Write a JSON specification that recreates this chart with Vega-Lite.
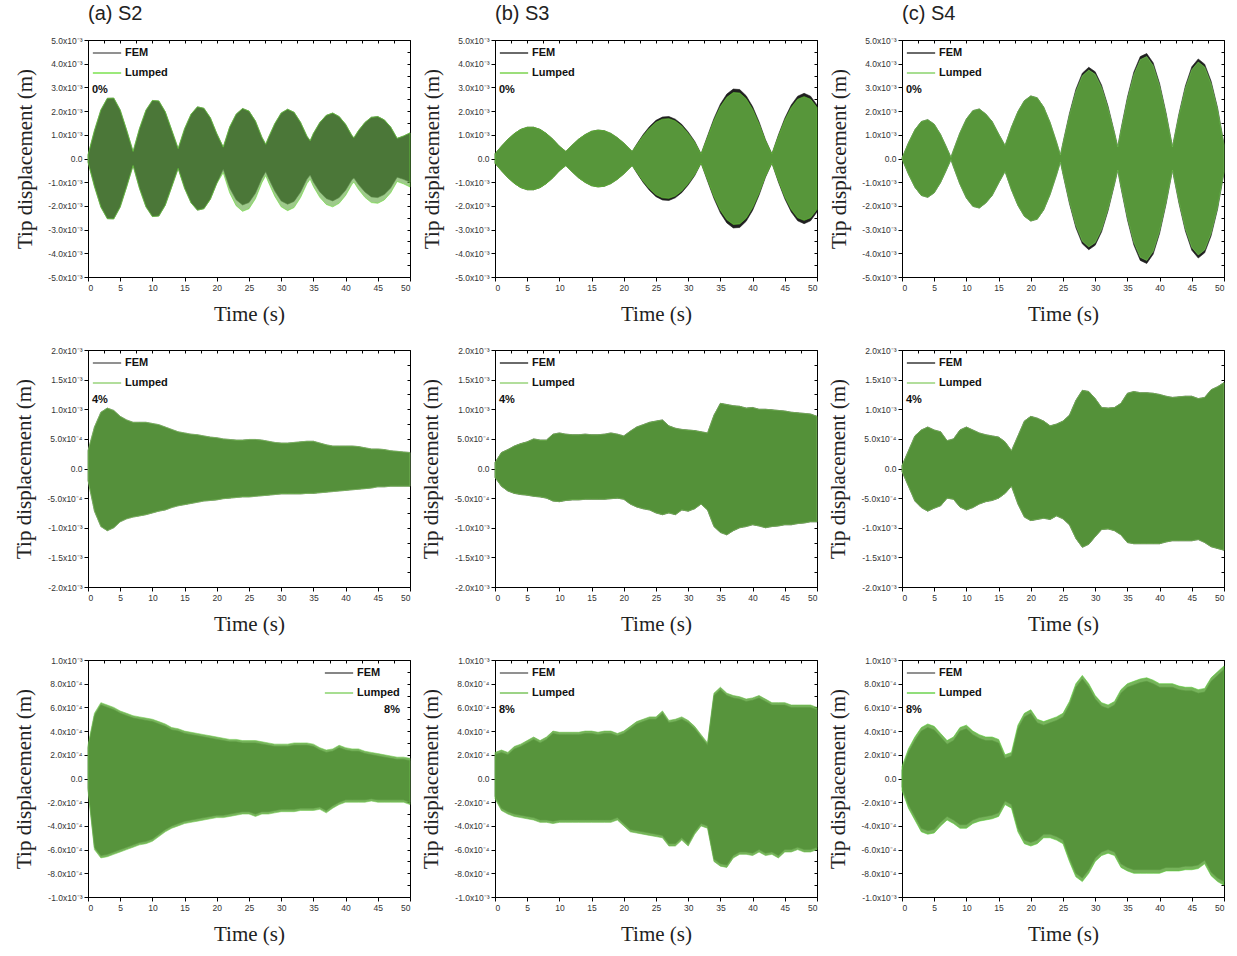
{
"$schema": "https://vega.github.io/schema/vega-lite/v6.json",
"background": "white",
"padding": {"left": 13, "top": 3, "right": 5, "bottom": 5},
"config": {
  "view": {"stroke": "#000", "strokeWidth": 1},
  "axis": {"domainColor": "#000", "tickColor": "#000", "labelFont": "Liberation Sans", "labelFontSize": 8.5, "labelColor": "#333", "titleFont": "Liberation Serif", "titleFontSize": 21, "titleFontWeight": "normal", "titleColor": "#222", "grid": false, "tickSize": 4, "labelPadding": 2},
  "axisX": {"titlePadding": 12},
  "axisY": {"titlePadding": 12},
  "title": {"font": "Liberation Sans", "fontSize": 20, "fontWeight": "normal", "anchor": "start", "frame": "group", "color": "#222", "offset": 12},
  "legend": {"orient": "none", "legendX": 4, "legendY": -2, "titleOrient": "bottom", "symbolType": "stroke", "symbolSize": 800, "symbolStrokeWidth": 1.3, "labelFont": "Liberation Sans", "labelFontWeight": "bold", "labelFontSize": 11, "labelColor": "#111", "titleFont": "Liberation Sans", "titleFontWeight": "bold", "titleFontSize": 11, "titleColor": "#111", "titlePadding": 6, "rowPadding": -21, "padding": 0, "labelOffset": 3}
},
"datasets": {
"a1": [
{"t":0,"fh":0.15,"fl":-0.15,"lh":0.15,"ll":-0.15},
{"t":1,"fh":1.18,"fl":-1.18,"lh":1.18,"ll":-1.18},
{"t":2,"fh":2.05,"fl":-2.05,"lh":2.05,"ll":-2.05},
{"t":3,"fh":2.54,"fl":-2.54,"lh":2.54,"ll":-2.54},
{"t":4,"fh":2.55,"fl":-2.55,"lh":2.55,"ll":-2.55},
{"t":5,"fh":2.05,"fl":-2.05,"lh":2.05,"ll":-2.05},
{"t":6,"fh":1.2,"fl":-1.2,"lh":1.2,"ll":-1.2},
{"t":7,"fh":0.3,"fl":-0.3,"lh":0.3,"ll":-0.3},
{"t":8,"fh":1.27,"fl":-1.27,"lh":1.27,"ll":-1.27},
{"t":9,"fh":2.04,"fl":-2.04,"lh":2.04,"ll":-2.04},
{"t":10,"fh":2.45,"fl":-2.45,"lh":2.45,"ll":-2.45},
{"t":11,"fh":2.43,"fl":-2.43,"lh":2.43,"ll":-2.43},
{"t":12,"fh":1.97,"fl":-1.97,"lh":1.97,"ll":-1.97},
{"t":13,"fh":1.2,"fl":-1.2,"lh":1.2,"ll":-1.2},
{"t":14,"fh":0.42,"fl":-0.42,"lh":0.42,"ll":-0.42},
{"t":15,"fh":1.26,"fl":-1.26,"lh":1.26,"ll":-1.26},
{"t":16,"fh":1.87,"fl":-1.87,"lh":1.87,"ll":-1.87},
{"t":17,"fh":2.18,"fl":-2.18,"lh":2.18,"ll":-2.18},
{"t":18,"fh":2.12,"fl":-2.12,"lh":2.12,"ll":-2.12},
{"t":19,"fh":1.72,"fl":-1.72,"lh":1.72,"ll":-1.72},
{"t":20,"fh":1.05,"fl":-1.05,"lh":1.05,"ll":-1.05},
{"t":21,"fh":0.48,"fl":-0.45,"lh":0.48,"ll":-0.6},
{"t":22,"fh":1.33,"fl":-1.24,"lh":1.33,"ll":-1.45},
{"t":23,"fh":1.87,"fl":-1.74,"lh":1.87,"ll":-1.99},
{"t":24,"fh":2.11,"fl":-1.96,"lh":2.11,"ll":-2.23},
{"t":25,"fh":2.0,"fl":-1.86,"lh":2.0,"ll":-2.12},
{"t":26,"fh":1.58,"fl":-1.47,"lh":1.58,"ll":-1.7},
{"t":27,"fh":0.9,"fl":-0.84,"lh":0.9,"ll":-1.02},
{"t":27.6,"fh":0.6,"fl":-0.56,"lh":0.6,"ll":-0.72},
{"t":28,"fh":0.87,"fl":-0.81,"lh":0.87,"ll":-0.99},
{"t":29,"fh":1.47,"fl":-1.37,"lh":1.47,"ll":-1.59},
{"t":30,"fh":1.92,"fl":-1.79,"lh":1.92,"ll":-2.04},
{"t":31,"fh":2.08,"fl":-1.93,"lh":2.08,"ll":-2.2},
{"t":32,"fh":1.95,"fl":-1.81,"lh":1.95,"ll":-2.07},
{"t":33,"fh":1.53,"fl":-1.42,"lh":1.53,"ll":-1.65},
{"t":34,"fh":0.94,"fl":-0.87,"lh":0.94,"ll":-1.06},
{"t":34.5,"fh":0.75,"fl":-0.7,"lh":0.75,"ll":-0.87},
{"t":35,"fh":1.06,"fl":-0.99,"lh":1.06,"ll":-1.18},
{"t":36,"fh":1.52,"fl":-1.41,"lh":1.52,"ll":-1.64},
{"t":37,"fh":1.82,"fl":-1.69,"lh":1.82,"ll":-1.94},
{"t":38,"fh":1.92,"fl":-1.79,"lh":1.92,"ll":-2.04},
{"t":39,"fh":1.77,"fl":-1.65,"lh":1.77,"ll":-1.89},
{"t":40,"fh":1.44,"fl":-1.34,"lh":1.44,"ll":-1.56},
{"t":41,"fh":0.96,"fl":-0.89,"lh":0.96,"ll":-1.08},
{"t":41.3,"fh":0.88,"fl":-0.82,"lh":0.88,"ll":-1.0},
{"t":42,"fh":1.18,"fl":-1.1,"lh":1.18,"ll":-1.3},
{"t":43,"fh":1.52,"fl":-1.41,"lh":1.52,"ll":-1.64},
{"t":44,"fh":1.74,"fl":-1.62,"lh":1.74,"ll":-1.86},
{"t":45,"fh":1.77,"fl":-1.65,"lh":1.77,"ll":-1.89},
{"t":46,"fh":1.63,"fl":-1.52,"lh":1.63,"ll":-1.75},
{"t":47,"fh":1.33,"fl":-1.24,"lh":1.33,"ll":-1.45},
{"t":48,"fh":0.85,"fl":-0.79,"lh":0.85,"ll":-0.97},
{"t":49,"fh":0.95,"fl":-0.88,"lh":0.95,"ll":-1.07},
{"t":50,"fh":1.08,"fl":-1.0,"lh":1.08,"ll":-1.2}
],
"b1": [
{"t":0,"fh":0.2,"fl":-0.2,"lh":0.2,"ll":-0.2},
{"t":1,"fh":0.52,"fl":-0.52,"lh":0.52,"ll":-0.52},
{"t":2,"fh":0.81,"fl":-0.81,"lh":0.81,"ll":-0.81},
{"t":3,"fh":1.05,"fl":-1.05,"lh":1.05,"ll":-1.05},
{"t":4,"fh":1.23,"fl":-1.23,"lh":1.23,"ll":-1.23},
{"t":5,"fh":1.32,"fl":-1.32,"lh":1.32,"ll":-1.32},
{"t":6,"fh":1.32,"fl":-1.32,"lh":1.32,"ll":-1.32},
{"t":7,"fh":1.23,"fl":-1.23,"lh":1.23,"ll":-1.23},
{"t":8,"fh":1.05,"fl":-1.05,"lh":1.05,"ll":-1.05},
{"t":9,"fh":0.81,"fl":-0.81,"lh":0.81,"ll":-0.81},
{"t":10,"fh":0.52,"fl":-0.52,"lh":0.52,"ll":-0.52},
{"t":11,"fh":0.3,"fl":-0.3,"lh":0.3,"ll":-0.3},
{"t":12,"fh":0.57,"fl":-0.57,"lh":0.57,"ll":-0.57},
{"t":13,"fh":0.82,"fl":-0.82,"lh":0.82,"ll":-0.82},
{"t":14,"fh":1.01,"fl":-1.01,"lh":1.01,"ll":-1.01},
{"t":15,"fh":1.15,"fl":-1.15,"lh":1.15,"ll":-1.15},
{"t":16,"fh":1.2,"fl":-1.2,"lh":1.2,"ll":-1.2},
{"t":17,"fh":1.17,"fl":-1.17,"lh":1.17,"ll":-1.17},
{"t":18,"fh":1.06,"fl":-1.06,"lh":1.06,"ll":-1.06},
{"t":19,"fh":0.88,"fl":-0.88,"lh":0.88,"ll":-0.88},
{"t":20,"fh":0.65,"fl":-0.65,"lh":0.65,"ll":-0.65},
{"t":21,"fh":0.38,"fl":-0.38,"lh":0.38,"ll":-0.38},
{"t":21.3,"fh":0.3,"fl":-0.3,"lh":0.3,"ll":-0.3},
{"t":22,"fh":0.6,"fl":-0.6,"lh":0.57,"ll":-0.57},
{"t":23,"fh":1.01,"fl":-1.01,"lh":0.96,"ll":-0.96},
{"t":24,"fh":1.35,"fl":-1.35,"lh":1.28,"ll":-1.28},
{"t":25,"fh":1.61,"fl":-1.61,"lh":1.53,"ll":-1.53},
{"t":26,"fh":1.75,"fl":-1.75,"lh":1.66,"ll":-1.66},
{"t":27,"fh":1.77,"fl":-1.77,"lh":1.68,"ll":-1.68},
{"t":28,"fh":1.66,"fl":-1.66,"lh":1.58,"ll":-1.58},
{"t":29,"fh":1.44,"fl":-1.44,"lh":1.37,"ll":-1.37},
{"t":30,"fh":1.12,"fl":-1.12,"lh":1.06,"ll":-1.06},
{"t":31,"fh":0.73,"fl":-0.73,"lh":0.69,"ll":-0.69},
{"t":32,"fh":0.2,"fl":-0.2,"lh":0.19,"ll":-0.19},
{"t":33,"fh":0.95,"fl":-0.95,"lh":0.9,"ll":-0.9},
{"t":34,"fh":1.69,"fl":-1.69,"lh":1.61,"ll":-1.61},
{"t":35,"fh":2.3,"fl":-2.3,"lh":2.19,"ll":-2.19},
{"t":36,"fh":2.72,"fl":-2.72,"lh":2.58,"ll":-2.58},
{"t":37,"fh":2.93,"fl":-2.93,"lh":2.78,"ll":-2.78},
{"t":38,"fh":2.91,"fl":-2.91,"lh":2.76,"ll":-2.76},
{"t":39,"fh":2.65,"fl":-2.65,"lh":2.52,"ll":-2.52},
{"t":40,"fh":2.19,"fl":-2.19,"lh":2.08,"ll":-2.08},
{"t":41,"fh":1.55,"fl":-1.55,"lh":1.47,"ll":-1.47},
{"t":42,"fh":0.79,"fl":-0.79,"lh":0.75,"ll":-0.75},
{"t":43,"fh":0.2,"fl":-0.2,"lh":0.19,"ll":-0.19},
{"t":44,"fh":0.99,"fl":-0.99,"lh":0.94,"ll":-0.94},
{"t":45,"fh":1.7,"fl":-1.7,"lh":1.62,"ll":-1.62},
{"t":46,"fh":2.26,"fl":-2.26,"lh":2.15,"ll":-2.15},
{"t":47,"fh":2.63,"fl":-2.63,"lh":2.5,"ll":-2.5},
{"t":48,"fh":2.75,"fl":-2.75,"lh":2.61,"ll":-2.61},
{"t":49,"fh":2.63,"fl":-2.63,"lh":2.5,"ll":-2.5},
{"t":50,"fh":2.26,"fl":-2.26,"lh":2.15,"ll":-2.15}
],
"c1": [
{"t":0,"fh":0.02,"fl":-0.02,"lh":0.02,"ll":-0.02},
{"t":1,"fh":0.66,"fl":-0.66,"lh":0.66,"ll":-0.66},
{"t":2,"fh":1.21,"fl":-1.21,"lh":1.21,"ll":-1.21},
{"t":3,"fh":1.56,"fl":-1.56,"lh":1.56,"ll":-1.56},
{"t":4,"fh":1.64,"fl":-1.64,"lh":1.64,"ll":-1.64},
{"t":5,"fh":1.45,"fl":-1.45,"lh":1.45,"ll":-1.45},
{"t":6,"fh":1.01,"fl":-1.01,"lh":1.01,"ll":-1.01},
{"t":7,"fh":0.42,"fl":-0.42,"lh":0.42,"ll":-0.42},
{"t":7.6,"fh":0.05,"fl":-0.05,"lh":0.05,"ll":-0.05},
{"t":8,"fh":0.36,"fl":-0.36,"lh":0.36,"ll":-0.36},
{"t":9,"fh":1.09,"fl":-1.09,"lh":1.09,"ll":-1.09},
{"t":10,"fh":1.67,"fl":-1.67,"lh":1.67,"ll":-1.67},
{"t":11,"fh":2.02,"fl":-2.02,"lh":2.02,"ll":-2.02},
{"t":12,"fh":2.09,"fl":-2.09,"lh":2.09,"ll":-2.09},
{"t":13,"fh":1.88,"fl":-1.88,"lh":1.88,"ll":-1.88},
{"t":14,"fh":1.56,"fl":-1.56,"lh":1.56,"ll":-1.56},
{"t":15,"fh":1.04,"fl":-1.04,"lh":1.04,"ll":-1.04},
{"t":16,"fh":0.55,"fl":-0.55,"lh":0.55,"ll":-0.55},
{"t":17,"fh":1.33,"fl":-1.33,"lh":1.33,"ll":-1.33},
{"t":18,"fh":1.98,"fl":-1.98,"lh":1.98,"ll":-1.98},
{"t":19,"fh":2.44,"fl":-2.44,"lh":2.44,"ll":-2.44},
{"t":20,"fh":2.64,"fl":-2.64,"lh":2.64,"ll":-2.64},
{"t":21,"fh":2.56,"fl":-2.56,"lh":2.56,"ll":-2.56},
{"t":22,"fh":2.17,"fl":-2.17,"lh":2.17,"ll":-2.17},
{"t":23,"fh":1.52,"fl":-1.52,"lh":1.52,"ll":-1.52},
{"t":24,"fh":0.69,"fl":-0.69,"lh":0.69,"ll":-0.69},
{"t":24.6,"fh":0.15,"fl":-0.15,"lh":0.15,"ll":-0.15},
{"t":25,"fh":0.67,"fl":-0.67,"lh":0.65,"ll":-0.65},
{"t":26,"fh":1.9,"fl":-1.9,"lh":1.84,"ll":-1.84},
{"t":27,"fh":2.92,"fl":-2.92,"lh":2.83,"ll":-2.83},
{"t":28,"fh":3.6,"fl":-3.6,"lh":3.49,"ll":-3.49},
{"t":29,"fh":3.85,"fl":-3.85,"lh":3.73,"ll":-3.73},
{"t":30,"fh":3.66,"fl":-3.66,"lh":3.55,"ll":-3.55},
{"t":31,"fh":3.09,"fl":-3.09,"lh":3.0,"ll":-3.0},
{"t":32,"fh":2.2,"fl":-2.2,"lh":2.13,"ll":-2.13},
{"t":33,"fh":1.09,"fl":-1.09,"lh":1.06,"ll":-1.06},
{"t":33.5,"fh":0.5,"fl":-0.5,"lh":0.49,"ll":-0.49},
{"t":34,"fh":1.23,"fl":-1.23,"lh":1.19,"ll":-1.19},
{"t":35,"fh":2.58,"fl":-2.58,"lh":2.5,"ll":-2.5},
{"t":36,"fh":3.65,"fl":-3.65,"lh":3.54,"ll":-3.54},
{"t":37,"fh":4.3,"fl":-4.3,"lh":4.17,"ll":-4.17},
{"t":38,"fh":4.43,"fl":-4.43,"lh":4.3,"ll":-4.3},
{"t":39,"fh":4.04,"fl":-4.04,"lh":3.92,"ll":-3.92},
{"t":40,"fh":3.16,"fl":-3.16,"lh":3.07,"ll":-3.07},
{"t":41,"fh":1.93,"fl":-1.93,"lh":1.87,"ll":-1.87},
{"t":42,"fh":0.5,"fl":-0.5,"lh":0.49,"ll":-0.49},
{"t":43,"fh":1.88,"fl":-1.88,"lh":1.82,"ll":-1.82},
{"t":44,"fh":3.06,"fl":-3.06,"lh":2.97,"ll":-2.97},
{"t":45,"fh":3.87,"fl":-3.87,"lh":3.75,"ll":-3.75},
{"t":46,"fh":4.2,"fl":-4.2,"lh":4.07,"ll":-4.07},
{"t":47,"fh":3.98,"fl":-3.98,"lh":3.86,"ll":-3.86},
{"t":48,"fh":3.26,"fl":-3.26,"lh":3.16,"ll":-3.16},
{"t":49,"fh":2.14,"fl":-2.14,"lh":2.08,"ll":-2.08},
{"t":50,"fh":0.6,"fl":-0.6,"lh":0.58,"ll":-0.58}
],
"a2": [
{"t":0,"fh":0.3,"fl":-0.2},{"t":1,"fh":0.7,"fl":-0.72},{"t":2,"fh":0.95,"fl":-0.98},{"t":3,"fh":1.02,"fl":-1.05},{"t":4,"fh":0.98,"fl":-1.0},
{"t":5,"fh":0.88,"fl":-0.9},{"t":6,"fh":0.82,"fl":-0.85},{"t":7,"fh":0.78,"fl":-0.82},{"t":8,"fh":0.78,"fl":-0.8},{"t":9,"fh":0.78,"fl":-0.78},
{"t":10,"fh":0.76,"fl":-0.75},{"t":11,"fh":0.74,"fl":-0.72},{"t":12,"fh":0.7,"fl":-0.7},{"t":13,"fh":0.66,"fl":-0.66},{"t":14,"fh":0.62,"fl":-0.63},
{"t":15,"fh":0.6,"fl":-0.61},{"t":16,"fh":0.58,"fl":-0.59},{"t":17,"fh":0.57,"fl":-0.57},{"t":18,"fh":0.55,"fl":-0.55},{"t":19,"fh":0.53,"fl":-0.54},
{"t":20,"fh":0.52,"fl":-0.53},{"t":21,"fh":0.5,"fl":-0.51},{"t":22,"fh":0.49,"fl":-0.5},{"t":23,"fh":0.48,"fl":-0.49},{"t":24,"fh":0.48,"fl":-0.48},
{"t":25,"fh":0.49,"fl":-0.48},{"t":26,"fh":0.49,"fl":-0.47},{"t":27,"fh":0.48,"fl":-0.46},{"t":28,"fh":0.46,"fl":-0.45},{"t":29,"fh":0.44,"fl":-0.44},
{"t":30,"fh":0.43,"fl":-0.43},{"t":31,"fh":0.43,"fl":-0.43},{"t":32,"fh":0.44,"fl":-0.43},{"t":33,"fh":0.45,"fl":-0.43},{"t":34,"fh":0.46,"fl":-0.42},
{"t":35,"fh":0.46,"fl":-0.42},{"t":36,"fh":0.43,"fl":-0.41},{"t":37,"fh":0.4,"fl":-0.4},{"t":38,"fh":0.38,"fl":-0.39},{"t":39,"fh":0.38,"fl":-0.38},
{"t":40,"fh":0.38,"fl":-0.37},{"t":41,"fh":0.38,"fl":-0.36},{"t":42,"fh":0.37,"fl":-0.35},{"t":43,"fh":0.35,"fl":-0.34},{"t":44,"fh":0.33,"fl":-0.33},
{"t":45,"fh":0.33,"fl":-0.31},{"t":46,"fh":0.32,"fl":-0.31},{"t":47,"fh":0.3,"fl":-0.3},{"t":48,"fh":0.29,"fl":-0.3},{"t":49,"fh":0.28,"fl":-0.3},
{"t":50,"fh":0.27,"fl":-0.3}
],
"b2": [
{"t":0,"fh":0.1,"fl":-0.15},{"t":1,"fh":0.27,"fl":-0.3},{"t":2,"fh":0.32,"fl":-0.38},{"t":3,"fh":0.38,"fl":-0.42},{"t":4,"fh":0.42,"fl":-0.44},
{"t":5,"fh":0.45,"fl":-0.45},{"t":6,"fh":0.5,"fl":-0.47},{"t":7,"fh":0.48,"fl":-0.48},{"t":8,"fh":0.48,"fl":-0.5},{"t":9,"fh":0.58,"fl":-0.55},
{"t":10,"fh":0.6,"fl":-0.56},{"t":11,"fh":0.58,"fl":-0.54},{"t":12,"fh":0.57,"fl":-0.53},{"t":13,"fh":0.57,"fl":-0.53},{"t":14,"fh":0.58,"fl":-0.52},
{"t":15,"fh":0.57,"fl":-0.52},{"t":16,"fh":0.57,"fl":-0.52},{"t":17,"fh":0.58,"fl":-0.52},{"t":18,"fh":0.6,"fl":-0.51},{"t":19,"fh":0.58,"fl":-0.5},
{"t":20,"fh":0.55,"fl":-0.52},{"t":21,"fh":0.63,"fl":-0.6},{"t":22,"fh":0.7,"fl":-0.65},{"t":23,"fh":0.74,"fl":-0.68},{"t":24,"fh":0.78,"fl":-0.7},
{"t":25,"fh":0.8,"fl":-0.75},{"t":26,"fh":0.82,"fl":-0.78},{"t":27,"fh":0.72,"fl":-0.75},{"t":28,"fh":0.68,"fl":-0.78},{"t":29,"fh":0.66,"fl":-0.7},
{"t":30,"fh":0.65,"fl":-0.72},{"t":31,"fh":0.64,"fl":-0.68},{"t":32,"fh":0.62,"fl":-0.6},{"t":33,"fh":0.6,"fl":-0.7},{"t":34,"fh":0.9,"fl":-0.98},
{"t":35,"fh":1.1,"fl":-1.08},{"t":36,"fh":1.08,"fl":-1.12},{"t":37,"fh":1.06,"fl":-1.05},{"t":38,"fh":1.05,"fl":-1.0},{"t":39,"fh":1.02,"fl":-0.98},
{"t":40,"fh":1.03,"fl":-0.95},{"t":41,"fh":1.0,"fl":-0.97},{"t":42,"fh":1.0,"fl":-1.0},{"t":43,"fh":0.99,"fl":-0.98},{"t":44,"fh":0.98,"fl":-0.97},
{"t":45,"fh":0.97,"fl":-0.95},{"t":46,"fh":0.95,"fl":-0.95},{"t":47,"fh":0.94,"fl":-0.93},{"t":48,"fh":0.93,"fl":-0.92},{"t":49,"fh":0.92,"fl":-0.9},
{"t":50,"fh":0.88,"fl":-0.9}
],
"c2": [
{"t":0,"fh":0.05,"fl":-0.05},{"t":1,"fh":0.3,"fl":-0.3},{"t":2,"fh":0.55,"fl":-0.55},{"t":3,"fh":0.65,"fl":-0.66},{"t":4,"fh":0.7,"fl":-0.72},
{"t":5,"fh":0.65,"fl":-0.67},{"t":6,"fh":0.62,"fl":-0.63},{"t":7,"fh":0.47,"fl":-0.5},{"t":8,"fh":0.5,"fl":-0.52},{"t":9,"fh":0.65,"fl":-0.65},
{"t":10,"fh":0.7,"fl":-0.7},{"t":11,"fh":0.65,"fl":-0.66},{"t":12,"fh":0.6,"fl":-0.6},{"t":13,"fh":0.57,"fl":-0.56},{"t":14,"fh":0.55,"fl":-0.54},
{"t":15,"fh":0.53,"fl":-0.5},{"t":16,"fh":0.45,"fl":-0.42},{"t":17,"fh":0.3,"fl":-0.3},{"t":18,"fh":0.55,"fl":-0.6},{"t":19,"fh":0.8,"fl":-0.82},
{"t":20,"fh":0.88,"fl":-0.88},{"t":21,"fh":0.85,"fl":-0.86},{"t":22,"fh":0.8,"fl":-0.84},{"t":23,"fh":0.72,"fl":-0.86},{"t":24,"fh":0.75,"fl":-0.8},
{"t":25,"fh":0.8,"fl":-0.85},{"t":26,"fh":0.9,"fl":-0.95},{"t":27,"fh":1.15,"fl":-1.18},{"t":28,"fh":1.32,"fl":-1.33},{"t":29,"fh":1.3,"fl":-1.28},
{"t":30,"fh":1.18,"fl":-1.15},{"t":31,"fh":1.03,"fl":-1.03},{"t":32,"fh":1.02,"fl":-1.02},{"t":33,"fh":1.03,"fl":-1.05},{"t":34,"fh":1.1,"fl":-1.12},
{"t":35,"fh":1.27,"fl":-1.25},{"t":36,"fh":1.3,"fl":-1.27},{"t":37,"fh":1.28,"fl":-1.27},{"t":38,"fh":1.28,"fl":-1.27},{"t":39,"fh":1.27,"fl":-1.27},
{"t":40,"fh":1.25,"fl":-1.27},{"t":41,"fh":1.22,"fl":-1.24},{"t":42,"fh":1.2,"fl":-1.22},{"t":43,"fh":1.21,"fl":-1.22},{"t":44,"fh":1.22,"fl":-1.22},
{"t":45,"fh":1.22,"fl":-1.22},{"t":46,"fh":1.18,"fl":-1.2},{"t":47,"fh":1.2,"fl":-1.25},{"t":48,"fh":1.33,"fl":-1.32},{"t":49,"fh":1.38,"fl":-1.35},
{"t":50,"fh":1.45,"fl":-1.38}
],
"a3": [
{"t":0,"lh":0.28,"ll":-0.1,"fh":0.26,"fl":-0.08},
{"t":1,"lh":0.55,"ll":-0.6,"fh":0.53,"fl":-0.58},
{"t":2,"lh":0.64,"ll":-0.67,"fh":0.62,"fl":-0.65},
{"t":3,"lh":0.62,"ll":-0.66,"fh":0.6,"fl":-0.64},
{"t":4,"lh":0.6,"ll":-0.64,"fh":0.58,"fl":-0.62},
{"t":5,"lh":0.57,"ll":-0.62,"fh":0.55,"fl":-0.6},
{"t":6,"lh":0.55,"ll":-0.6,"fh":0.53,"fl":-0.58},
{"t":7,"lh":0.53,"ll":-0.58,"fh":0.51,"fl":-0.56},
{"t":8,"lh":0.52,"ll":-0.56,"fh":0.5,"fl":-0.54},
{"t":9,"lh":0.51,"ll":-0.55,"fh":0.49,"fl":-0.53},
{"t":10,"lh":0.5,"ll":-0.53,"fh":0.48,"fl":-0.51},
{"t":11,"lh":0.48,"ll":-0.49,"fh":0.46,"fl":-0.47},
{"t":12,"lh":0.46,"ll":-0.45,"fh":0.44,"fl":-0.43},
{"t":13,"lh":0.43,"ll":-0.42,"fh":0.41,"fl":-0.4},
{"t":14,"lh":0.42,"ll":-0.4,"fh":0.4,"fl":-0.38},
{"t":15,"lh":0.4,"ll":-0.38,"fh":0.38,"fl":-0.36},
{"t":16,"lh":0.39,"ll":-0.37,"fh":0.37,"fl":-0.35},
{"t":17,"lh":0.38,"ll":-0.36,"fh":0.36,"fl":-0.34},
{"t":18,"lh":0.37,"ll":-0.35,"fh":0.35,"fl":-0.33},
{"t":19,"lh":0.36,"ll":-0.34,"fh":0.34,"fl":-0.32},
{"t":20,"lh":0.35,"ll":-0.33,"fh":0.33,"fl":-0.31},
{"t":21,"lh":0.34,"ll":-0.33,"fh":0.32,"fl":-0.31},
{"t":22,"lh":0.33,"ll":-0.32,"fh":0.31,"fl":-0.3},
{"t":23,"lh":0.33,"ll":-0.31,"fh":0.31,"fl":-0.29},
{"t":24,"lh":0.32,"ll":-0.3,"fh":0.3,"fl":-0.28},
{"t":25,"lh":0.32,"ll":-0.3,"fh":0.3,"fl":-0.28},
{"t":26,"lh":0.32,"ll":-0.32,"fh":0.3,"fl":-0.3},
{"t":27,"lh":0.31,"ll":-0.3,"fh":0.29,"fl":-0.28},
{"t":28,"lh":0.3,"ll":-0.3,"fh":0.28,"fl":-0.28},
{"t":29,"lh":0.29,"ll":-0.29,"fh":0.27,"fl":-0.27},
{"t":30,"lh":0.29,"ll":-0.28,"fh":0.27,"fl":-0.26},
{"t":31,"lh":0.29,"ll":-0.28,"fh":0.27,"fl":-0.26},
{"t":32,"lh":0.3,"ll":-0.28,"fh":0.28,"fl":-0.26},
{"t":33,"lh":0.3,"ll":-0.27,"fh":0.28,"fl":-0.25},
{"t":34,"lh":0.3,"ll":-0.27,"fh":0.28,"fl":-0.25},
{"t":35,"lh":0.29,"ll":-0.27,"fh":0.27,"fl":-0.25},
{"t":36,"lh":0.26,"ll":-0.26,"fh":0.24,"fl":-0.24},
{"t":37,"lh":0.24,"ll":-0.29,"fh":0.22,"fl":-0.27},
{"t":38,"lh":0.25,"ll":-0.25,"fh":0.23,"fl":-0.23},
{"t":39,"lh":0.28,"ll":-0.22,"fh":0.26,"fl":-0.2},
{"t":40,"lh":0.26,"ll":-0.2,"fh":0.24,"fl":-0.18},
{"t":41,"lh":0.25,"ll":-0.2,"fh":0.23,"fl":-0.18},
{"t":42,"lh":0.25,"ll":-0.2,"fh":0.23,"fl":-0.18},
{"t":43,"lh":0.23,"ll":-0.2,"fh":0.21,"fl":-0.18},
{"t":44,"lh":0.22,"ll":-0.19,"fh":0.2,"fl":-0.17},
{"t":45,"lh":0.21,"ll":-0.2,"fh":0.19,"fl":-0.18},
{"t":46,"lh":0.2,"ll":-0.2,"fh":0.18,"fl":-0.18},
{"t":47,"lh":0.19,"ll":-0.2,"fh":0.17,"fl":-0.18},
{"t":48,"lh":0.18,"ll":-0.2,"fh":0.16,"fl":-0.18},
{"t":49,"lh":0.18,"ll":-0.2,"fh":0.16,"fl":-0.18},
{"t":50,"lh":0.17,"ll":-0.22,"fh":0.15,"fl":-0.2}
],
"b3": [
{"t":0,"fh":0.2,"fl":-0.15,"lh":0.22,"ll":-0.17},
{"t":1,"fh":0.22,"fl":-0.25,"lh":0.24,"ll":-0.27},
{"t":2,"fh":0.2,"fl":-0.28,"lh":0.22,"ll":-0.3},
{"t":3,"fh":0.25,"fl":-0.3,"lh":0.27,"ll":-0.32},
{"t":4,"fh":0.27,"fl":-0.31,"lh":0.29,"ll":-0.33},
{"t":5,"fh":0.3,"fl":-0.32,"lh":0.32,"ll":-0.34},
{"t":6,"fh":0.33,"fl":-0.33,"lh":0.35,"ll":-0.35},
{"t":7,"fh":0.3,"fl":-0.35,"lh":0.32,"ll":-0.37},
{"t":8,"fh":0.33,"fl":-0.35,"lh":0.35,"ll":-0.37},
{"t":9,"fh":0.38,"fl":-0.36,"lh":0.4,"ll":-0.38},
{"t":10,"fh":0.37,"fl":-0.35,"lh":0.39,"ll":-0.37},
{"t":11,"fh":0.37,"fl":-0.35,"lh":0.39,"ll":-0.37},
{"t":12,"fh":0.37,"fl":-0.35,"lh":0.39,"ll":-0.37},
{"t":13,"fh":0.37,"fl":-0.35,"lh":0.39,"ll":-0.37},
{"t":14,"fh":0.38,"fl":-0.35,"lh":0.4,"ll":-0.37},
{"t":15,"fh":0.38,"fl":-0.35,"lh":0.4,"ll":-0.37},
{"t":16,"fh":0.37,"fl":-0.35,"lh":0.39,"ll":-0.37},
{"t":17,"fh":0.38,"fl":-0.35,"lh":0.4,"ll":-0.37},
{"t":18,"fh":0.38,"fl":-0.35,"lh":0.4,"ll":-0.37},
{"t":19,"fh":0.36,"fl":-0.33,"lh":0.38,"ll":-0.35},
{"t":20,"fh":0.38,"fl":-0.38,"lh":0.4,"ll":-0.4},
{"t":21,"fh":0.42,"fl":-0.43,"lh":0.44,"ll":-0.45},
{"t":22,"fh":0.46,"fl":-0.44,"lh":0.48,"ll":-0.46},
{"t":23,"fh":0.48,"fl":-0.45,"lh":0.5,"ll":-0.47},
{"t":24,"fh":0.5,"fl":-0.46,"lh":0.52,"ll":-0.48},
{"t":25,"fh":0.5,"fl":-0.47,"lh":0.52,"ll":-0.49},
{"t":26,"fh":0.55,"fl":-0.48,"lh":0.57,"ll":-0.5},
{"t":27,"fh":0.47,"fl":-0.55,"lh":0.49,"ll":-0.57},
{"t":28,"fh":0.48,"fl":-0.55,"lh":0.5,"ll":-0.57},
{"t":29,"fh":0.5,"fl":-0.5,"lh":0.52,"ll":-0.52},
{"t":30,"fh":0.47,"fl":-0.55,"lh":0.49,"ll":-0.57},
{"t":31,"fh":0.42,"fl":-0.45,"lh":0.44,"ll":-0.47},
{"t":32,"fh":0.35,"fl":-0.38,"lh":0.37,"ll":-0.4},
{"t":33,"fh":0.28,"fl":-0.4,"lh":0.3,"ll":-0.42},
{"t":34,"fh":0.7,"fl":-0.68,"lh":0.72,"ll":-0.7},
{"t":35,"fh":0.75,"fl":-0.72,"lh":0.77,"ll":-0.74},
{"t":36,"fh":0.7,"fl":-0.73,"lh":0.72,"ll":-0.75},
{"t":37,"fh":0.68,"fl":-0.65,"lh":0.7,"ll":-0.67},
{"t":38,"fh":0.67,"fl":-0.62,"lh":0.69,"ll":-0.64},
{"t":39,"fh":0.65,"fl":-0.62,"lh":0.67,"ll":-0.64},
{"t":40,"fh":0.66,"fl":-0.63,"lh":0.68,"ll":-0.65},
{"t":41,"fh":0.68,"fl":-0.6,"lh":0.7,"ll":-0.62},
{"t":42,"fh":0.65,"fl":-0.63,"lh":0.67,"ll":-0.65},
{"t":43,"fh":0.62,"fl":-0.62,"lh":0.64,"ll":-0.64},
{"t":44,"fh":0.62,"fl":-0.65,"lh":0.64,"ll":-0.67},
{"t":45,"fh":0.62,"fl":-0.6,"lh":0.64,"ll":-0.62},
{"t":46,"fh":0.6,"fl":-0.6,"lh":0.62,"ll":-0.62},
{"t":47,"fh":0.6,"fl":-0.58,"lh":0.62,"ll":-0.6},
{"t":48,"fh":0.6,"fl":-0.6,"lh":0.62,"ll":-0.62},
{"t":49,"fh":0.6,"fl":-0.6,"lh":0.62,"ll":-0.62},
{"t":50,"fh":0.58,"fl":-0.58,"lh":0.6,"ll":-0.6}
],
"c3": [
{"t":0,"lh":0.1,"ll":-0.1,"fh":0.07,"fl":-0.07},
{"t":1,"lh":0.25,"ll":-0.25,"fh":0.22,"fl":-0.22},
{"t":2,"lh":0.35,"ll":-0.35,"fh":0.32,"fl":-0.32},
{"t":3,"lh":0.43,"ll":-0.45,"fh":0.4,"fl":-0.42},
{"t":4,"lh":0.46,"ll":-0.47,"fh":0.43,"fl":-0.44},
{"t":5,"lh":0.44,"ll":-0.46,"fh":0.41,"fl":-0.43},
{"t":6,"lh":0.38,"ll":-0.4,"fh":0.35,"fl":-0.37},
{"t":7,"lh":0.32,"ll":-0.35,"fh":0.29,"fl":-0.32},
{"t":8,"lh":0.35,"ll":-0.38,"fh":0.32,"fl":-0.35},
{"t":9,"lh":0.43,"ll":-0.42,"fh":0.4,"fl":-0.39},
{"t":10,"lh":0.45,"ll":-0.42,"fh":0.42,"fl":-0.39},
{"t":11,"lh":0.4,"ll":-0.38,"fh":0.37,"fl":-0.35},
{"t":12,"lh":0.37,"ll":-0.36,"fh":0.34,"fl":-0.33},
{"t":13,"lh":0.35,"ll":-0.35,"fh":0.32,"fl":-0.32},
{"t":14,"lh":0.35,"ll":-0.34,"fh":0.32,"fl":-0.31},
{"t":15,"lh":0.33,"ll":-0.32,"fh":0.3,"fl":-0.29},
{"t":16,"lh":0.2,"ll":-0.22,"fh":0.17,"fl":-0.19},
{"t":17,"lh":0.22,"ll":-0.25,"fh":0.19,"fl":-0.22},
{"t":18,"lh":0.45,"ll":-0.45,"fh":0.42,"fl":-0.42},
{"t":19,"lh":0.55,"ll":-0.55,"fh":0.52,"fl":-0.52},
{"t":20,"lh":0.58,"ll":-0.57,"fh":0.55,"fl":-0.54},
{"t":21,"lh":0.5,"ll":-0.55,"fh":0.47,"fl":-0.52},
{"t":22,"lh":0.48,"ll":-0.5,"fh":0.45,"fl":-0.47},
{"t":23,"lh":0.5,"ll":-0.5,"fh":0.47,"fl":-0.47},
{"t":24,"lh":0.52,"ll":-0.52,"fh":0.49,"fl":-0.49},
{"t":25,"lh":0.55,"ll":-0.55,"fh":0.52,"fl":-0.52},
{"t":26,"lh":0.65,"ll":-0.7,"fh":0.62,"fl":-0.67},
{"t":27,"lh":0.8,"ll":-0.83,"fh":0.77,"fl":-0.8},
{"t":28,"lh":0.87,"ll":-0.87,"fh":0.84,"fl":-0.84},
{"t":29,"lh":0.8,"ll":-0.8,"fh":0.77,"fl":-0.77},
{"t":30,"lh":0.7,"ll":-0.7,"fh":0.67,"fl":-0.67},
{"t":31,"lh":0.64,"ll":-0.65,"fh":0.61,"fl":-0.62},
{"t":32,"lh":0.62,"ll":-0.63,"fh":0.59,"fl":-0.6},
{"t":33,"lh":0.65,"ll":-0.65,"fh":0.62,"fl":-0.62},
{"t":34,"lh":0.75,"ll":-0.75,"fh":0.72,"fl":-0.72},
{"t":35,"lh":0.8,"ll":-0.78,"fh":0.77,"fl":-0.75},
{"t":36,"lh":0.82,"ll":-0.8,"fh":0.79,"fl":-0.77},
{"t":37,"lh":0.84,"ll":-0.8,"fh":0.81,"fl":-0.77},
{"t":38,"lh":0.85,"ll":-0.8,"fh":0.82,"fl":-0.77},
{"t":39,"lh":0.83,"ll":-0.8,"fh":0.8,"fl":-0.77},
{"t":40,"lh":0.8,"ll":-0.8,"fh":0.77,"fl":-0.77},
{"t":41,"lh":0.8,"ll":-0.78,"fh":0.77,"fl":-0.75},
{"t":42,"lh":0.8,"ll":-0.78,"fh":0.77,"fl":-0.75},
{"t":43,"lh":0.78,"ll":-0.78,"fh":0.75,"fl":-0.75},
{"t":44,"lh":0.77,"ll":-0.77,"fh":0.74,"fl":-0.74},
{"t":45,"lh":0.77,"ll":-0.77,"fh":0.74,"fl":-0.74},
{"t":46,"lh":0.75,"ll":-0.76,"fh":0.72,"fl":-0.73},
{"t":47,"lh":0.76,"ll":-0.72,"fh":0.73,"fl":-0.69},
{"t":48,"lh":0.85,"ll":-0.82,"fh":0.82,"fl":-0.79},
{"t":49,"lh":0.9,"ll":-0.87,"fh":0.87,"fl":-0.84},
{"t":50,"lh":0.95,"ll":-0.9,"fh":0.92,"fl":-0.87}
]
},
"columns": 3,
"spacing": {"row": 73, "column": 85},
"bounds": "flush",
"resolve": {"scale": {"x": "independent", "y": "independent", "stroke": "independent"}, "legend": {"stroke": "independent"}},
"concat": [
{
 "width": 322, "height": 237, "title": {"text": "(a) S2"}, "data": {"name": "a1"},
 "resolve": {"axis": {"x": "independent", "y": "independent"}},
 "layer": [
  {"mark": {"type": "area", "fill": "#303030", "strokeWidth": 0.6},
   "encoding": {
    "x": {"field": "t", "type": "quantitative", "scale": {"domain": [0, 50], "nice": false, "zero": false}, "axis": {"orient": "bottom", "values": [0,5,10,15,20,25,30,35,40,45,50], "title": "Time (s)"}},
    "y": {"field": "fh", "type": "quantitative", "scale": {"domain": [-5, 5], "nice": false}, "axis": {"orient": "left", "values": [-5,-4,-3,-2,-1,0,1,2,3,4,5], "labelExpr": "abs(datum.value) < 1e-9 ? '0.0' : replace(abs(datum.value) >= 0.999 ? format(datum.value, '.1f') + 'x10⁻³' : format(datum.value * 10, '.1f') + 'x10⁻⁴', '−', '-')", "title": "Tip displacement (m)"}},
    "y2": {"field": "fl"},
    "stroke": {"datum": "FEM", "scale": {"domain": ["FEM", "Lumped"], "range": ["#555555", "#66dd33"]}, "legend": {"title": "0%"}}
   }},
  {"mark": {"type": "area", "fill": "#5ea63e", "fillOpacity": 0.6, "strokeWidth": 0.6},
   "encoding": {
    "x": {"field": "t", "type": "quantitative", "axis": {"orient": "top", "values": [0,2.5,5,7.5,10,12.5,15,17.5,20,22.5,25,27.5,30,32.5,35,37.5,40,42.5,45,47.5,50], "labels": false, "title": null, "tickSize": -3, "domain": false}},
    "y": {"field": "lh", "type": "quantitative", "axis": {"orient": "right", "values": [-5,-4.5,-4,-3.5,-3,-2.5,-2,-1.5,-1,-0.5,0,0.5,1,1.5,2,2.5,3,3.5,4,4.5,5], "labels": false, "title": null, "tickSize": -3, "domain": false}},
    "y2": {"field": "ll"},
    "stroke": {"datum": "Lumped"}
   }}
 ]
},
{
 "width": 322, "height": 237, "title": {"text": "(b) S3"}, "data": {"name": "b1"},
 "resolve": {"axis": {"x": "independent", "y": "independent"}},
 "layer": [
  {"mark": {"type": "area", "fill": "#202020", "strokeWidth": 0.6},
   "encoding": {
    "x": {"field": "t", "type": "quantitative", "scale": {"domain": [0, 50], "nice": false, "zero": false}, "axis": {"orient": "bottom", "values": [0,5,10,15,20,25,30,35,40,45,50], "title": "Time (s)"}},
    "y": {"field": "fh", "type": "quantitative", "scale": {"domain": [-5, 5], "nice": false}, "axis": {"orient": "left", "values": [-5,-4,-3,-2,-1,0,1,2,3,4,5], "labelExpr": "abs(datum.value) < 1e-9 ? '0.0' : replace(abs(datum.value) >= 0.999 ? format(datum.value, '.1f') + 'x10⁻³' : format(datum.value * 10, '.1f') + 'x10⁻⁴', '−', '-')", "title": "Tip displacement (m)"}},
    "y2": {"field": "fl"},
    "stroke": {"datum": "FEM", "scale": {"domain": ["FEM", "Lumped"], "range": ["#1a1a1a", "#66cc33"]}, "legend": {"title": "0%"}}
   }},
  {"mark": {"type": "area", "fill": "#5ea63e", "fillOpacity": 0.88, "strokeWidth": 0.6},
   "encoding": {
    "x": {"field": "t", "type": "quantitative", "axis": {"orient": "top", "values": [0,2.5,5,7.5,10,12.5,15,17.5,20,22.5,25,27.5,30,32.5,35,37.5,40,42.5,45,47.5,50], "labels": false, "title": null, "tickSize": -3, "domain": false}},
    "y": {"field": "lh", "type": "quantitative", "axis": {"orient": "right", "values": [-5,-4.5,-4,-3.5,-3,-2.5,-2,-1.5,-1,-0.5,0,0.5,1,1.5,2,2.5,3,3.5,4,4.5,5], "labels": false, "title": null, "tickSize": -3, "domain": false}},
    "y2": {"field": "ll"},
    "stroke": {"datum": "Lumped"}
   }}
 ]
},
{
 "width": 322, "height": 237, "title": {"text": "(c) S4"}, "data": {"name": "c1"},
 "resolve": {"axis": {"x": "independent", "y": "independent"}},
 "layer": [
  {"mark": {"type": "area", "fill": "#202020", "strokeWidth": 0.6},
   "encoding": {
    "x": {"field": "t", "type": "quantitative", "scale": {"domain": [0, 50], "nice": false, "zero": false}, "axis": {"orient": "bottom", "values": [0,5,10,15,20,25,30,35,40,45,50], "title": "Time (s)"}},
    "y": {"field": "fh", "type": "quantitative", "scale": {"domain": [-5, 5], "nice": false}, "axis": {"orient": "left", "values": [-5,-4,-3,-2,-1,0,1,2,3,4,5], "labelExpr": "abs(datum.value) < 1e-9 ? '0.0' : replace(abs(datum.value) >= 0.999 ? format(datum.value, '.1f') + 'x10⁻³' : format(datum.value * 10, '.1f') + 'x10⁻⁴', '−', '-')", "title": "Tip displacement (m)"}},
    "y2": {"field": "fl"},
    "stroke": {"datum": "FEM", "scale": {"domain": ["FEM", "Lumped"], "range": ["#1a1a1a", "#77cc55"]}, "legend": {"title": "0%"}}
   }},
  {"mark": {"type": "area", "fill": "#5ea63e", "fillOpacity": 0.88, "strokeWidth": 0.6},
   "encoding": {
    "x": {"field": "t", "type": "quantitative", "axis": {"orient": "top", "values": [0,2.5,5,7.5,10,12.5,15,17.5,20,22.5,25,27.5,30,32.5,35,37.5,40,42.5,45,47.5,50], "labels": false, "title": null, "tickSize": -3, "domain": false}},
    "y": {"field": "lh", "type": "quantitative", "axis": {"orient": "right", "values": [-5,-4.5,-4,-3.5,-3,-2.5,-2,-1.5,-1,-0.5,0,0.5,1,1.5,2,2.5,3,3.5,4,4.5,5], "labels": false, "title": null, "tickSize": -3, "domain": false}},
    "y2": {"field": "ll"},
    "stroke": {"datum": "Lumped"}
   }}
 ]
},
{
 "width": 322, "height": 237, "data": {"name": "a2"},
 "resolve": {"axis": {"x": "independent", "y": "independent"}},
 "layer": [
  {"mark": {"type": "area", "fill": "#303030", "strokeWidth": 0.6},
   "encoding": {
    "x": {"field": "t", "type": "quantitative", "scale": {"domain": [0, 50], "nice": false, "zero": false}, "axis": {"orient": "bottom", "values": [0,5,10,15,20,25,30,35,40,45,50], "title": "Time (s)"}},
    "y": {"field": "fh", "type": "quantitative", "scale": {"domain": [-2, 2], "nice": false}, "axis": {"orient": "left", "values": [-2,-1.5,-1,-0.5,0,0.5,1,1.5,2], "labelExpr": "abs(datum.value) < 1e-9 ? '0.0' : replace(abs(datum.value) >= 0.999 ? format(datum.value, '.1f') + 'x10⁻³' : format(datum.value * 10, '.1f') + 'x10⁻⁴', '−', '-')", "title": "Tip displacement (m)"}},
    "y2": {"field": "fl"},
    "stroke": {"datum": "FEM", "scale": {"domain": ["FEM", "Lumped"], "range": ["#555555", "#88cc66"]}, "legend": {"title": "4%"}}
   }},
  {"mark": {"type": "area", "fill": "#5ea63e", "fillOpacity": 0.82, "strokeWidth": 0.6},
   "encoding": {
    "x": {"field": "t", "type": "quantitative", "axis": {"orient": "top", "values": [0,2.5,5,7.5,10,12.5,15,17.5,20,22.5,25,27.5,30,32.5,35,37.5,40,42.5,45,47.5,50], "labels": false, "title": null, "tickSize": -3, "domain": false}},
    "y": {"field": "fh", "type": "quantitative", "axis": {"orient": "right", "values": [-2,-1.75,-1.5,-1.25,-1,-0.75,-0.5,-0.25,0,0.25,0.5,0.75,1,1.25,1.5,1.75,2], "labels": false, "title": null, "tickSize": -3, "domain": false}},
    "y2": {"field": "fl"},
    "stroke": {"datum": "Lumped"}
   }}
 ]
},
{
 "width": 322, "height": 237, "data": {"name": "b2"},
 "resolve": {"axis": {"x": "independent", "y": "independent"}},
 "layer": [
  {"mark": {"type": "area", "fill": "#202020", "strokeWidth": 0.6},
   "encoding": {
    "x": {"field": "t", "type": "quantitative", "scale": {"domain": [0, 50], "nice": false, "zero": false}, "axis": {"orient": "bottom", "values": [0,5,10,15,20,25,30,35,40,45,50], "title": "Time (s)"}},
    "y": {"field": "fh", "type": "quantitative", "scale": {"domain": [-2, 2], "nice": false}, "axis": {"orient": "left", "values": [-2,-1.5,-1,-0.5,0,0.5,1,1.5,2], "labelExpr": "abs(datum.value) < 1e-9 ? '0.0' : replace(abs(datum.value) >= 0.999 ? format(datum.value, '.1f') + 'x10⁻³' : format(datum.value * 10, '.1f') + 'x10⁻⁴', '−', '-')", "title": "Tip displacement (m)"}},
    "y2": {"field": "fl"},
    "stroke": {"datum": "FEM", "scale": {"domain": ["FEM", "Lumped"], "range": ["#1a1a1a", "#88cc66"]}, "legend": {"title": "4%"}}
   }},
  {"mark": {"type": "area", "fill": "#5ea63e", "fillOpacity": 0.85, "strokeWidth": 0.6},
   "encoding": {
    "x": {"field": "t", "type": "quantitative", "axis": {"orient": "top", "values": [0,2.5,5,7.5,10,12.5,15,17.5,20,22.5,25,27.5,30,32.5,35,37.5,40,42.5,45,47.5,50], "labels": false, "title": null, "tickSize": -3, "domain": false}},
    "y": {"field": "fh", "type": "quantitative", "axis": {"orient": "right", "values": [-2,-1.75,-1.5,-1.25,-1,-0.75,-0.5,-0.25,0,0.25,0.5,0.75,1,1.25,1.5,1.75,2], "labels": false, "title": null, "tickSize": -3, "domain": false}},
    "y2": {"field": "fl"},
    "stroke": {"datum": "Lumped"}
   }}
 ]
},
{
 "width": 322, "height": 237, "data": {"name": "c2"},
 "resolve": {"axis": {"x": "independent", "y": "independent"}},
 "layer": [
  {"mark": {"type": "area", "fill": "#202020", "strokeWidth": 0.6},
   "encoding": {
    "x": {"field": "t", "type": "quantitative", "scale": {"domain": [0, 50], "nice": false, "zero": false}, "axis": {"orient": "bottom", "values": [0,5,10,15,20,25,30,35,40,45,50], "title": "Time (s)"}},
    "y": {"field": "fh", "type": "quantitative", "scale": {"domain": [-2, 2], "nice": false}, "axis": {"orient": "left", "values": [-2,-1.5,-1,-0.5,0,0.5,1,1.5,2], "labelExpr": "abs(datum.value) < 1e-9 ? '0.0' : replace(abs(datum.value) >= 0.999 ? format(datum.value, '.1f') + 'x10⁻³' : format(datum.value * 10, '.1f') + 'x10⁻⁴', '−', '-')", "title": "Tip displacement (m)"}},
    "y2": {"field": "fl"},
    "stroke": {"datum": "FEM", "scale": {"domain": ["FEM", "Lumped"], "range": ["#1a1a1a", "#88cc66"]}, "legend": {"title": "4%"}}
   }},
  {"mark": {"type": "area", "fill": "#5ea63e", "fillOpacity": 0.85, "strokeWidth": 0.6},
   "encoding": {
    "x": {"field": "t", "type": "quantitative", "axis": {"orient": "top", "values": [0,2.5,5,7.5,10,12.5,15,17.5,20,22.5,25,27.5,30,32.5,35,37.5,40,42.5,45,47.5,50], "labels": false, "title": null, "tickSize": -3, "domain": false}},
    "y": {"field": "fh", "type": "quantitative", "axis": {"orient": "right", "values": [-2,-1.75,-1.5,-1.25,-1,-0.75,-0.5,-0.25,0,0.25,0.5,0.75,1,1.25,1.5,1.75,2], "labels": false, "title": null, "tickSize": -3, "domain": false}},
    "y2": {"field": "fl"},
    "stroke": {"datum": "Lumped"}
   }}
 ]
},
{
 "width": 322, "height": 237, "data": {"name": "a3"},
 "resolve": {"axis": {"x": "independent", "y": "independent"}},
 "layer": [
  {"mark": {"type": "area", "fill": "#303030", "strokeWidth": 0.6},
   "encoding": {
    "x": {"field": "t", "type": "quantitative", "scale": {"domain": [0, 50], "nice": false, "zero": false}, "axis": {"orient": "bottom", "values": [0,5,10,15,20,25,30,35,40,45,50], "title": "Time (s)"}},
    "y": {"field": "fh", "type": "quantitative", "scale": {"domain": [-1, 1], "nice": false}, "axis": {"orient": "left", "values": [-1,-0.8,-0.6,-0.4,-0.2,0,0.2,0.4,0.6,0.8,1], "labelExpr": "abs(datum.value) < 1e-9 ? '0.0' : replace(abs(datum.value) >= 0.999 ? format(datum.value, '.1f') + 'x10⁻³' : format(datum.value * 10, '.1f') + 'x10⁻⁴', '−', '-')", "title": "Tip displacement (m)"}},
    "y2": {"field": "fl"},
    "stroke": {"datum": "FEM", "scale": {"domain": ["FEM", "Lumped"], "range": ["#444444", "#77cc55"]}, "legend": {"title": "8%", "legendX": 236, "titleAnchor": "end"}}
   }},
  {"mark": {"type": "area", "fill": "#5ea63e", "fillOpacity": 0.85, "strokeWidth": 0.6},
   "encoding": {
    "x": {"field": "t", "type": "quantitative", "axis": {"orient": "top", "values": [0,2.5,5,7.5,10,12.5,15,17.5,20,22.5,25,27.5,30,32.5,35,37.5,40,42.5,45,47.5,50], "labels": false, "title": null, "tickSize": -3, "domain": false}},
    "y": {"field": "lh", "type": "quantitative", "axis": {"orient": "right", "values": [-1,-0.9,-0.8,-0.7,-0.6,-0.5,-0.4,-0.3,-0.2,-0.1,0,0.1,0.2,0.3,0.4,0.5,0.6,0.7,0.8,0.9,1], "labels": false, "title": null, "tickSize": -3, "domain": false}},
    "y2": {"field": "ll"},
    "stroke": {"datum": "Lumped"}
   }}
 ]
},
{
 "width": 322, "height": 237, "data": {"name": "b3"},
 "resolve": {"axis": {"x": "independent", "y": "independent"}},
 "layer": [
  {"mark": {"type": "area", "fill": "#303030", "strokeWidth": 0.6},
   "encoding": {
    "x": {"field": "t", "type": "quantitative", "scale": {"domain": [0, 50], "nice": false, "zero": false}, "axis": {"orient": "bottom", "values": [0,5,10,15,20,25,30,35,40,45,50], "title": "Time (s)"}},
    "y": {"field": "fh", "type": "quantitative", "scale": {"domain": [-1, 1], "nice": false}, "axis": {"orient": "left", "values": [-1,-0.8,-0.6,-0.4,-0.2,0,0.2,0.4,0.6,0.8,1], "labelExpr": "abs(datum.value) < 1e-9 ? '0.0' : replace(abs(datum.value) >= 0.999 ? format(datum.value, '.1f') + 'x10⁻³' : format(datum.value * 10, '.1f') + 'x10⁻⁴', '−', '-')", "title": "Tip displacement (m)"}},
    "y2": {"field": "fl"},
    "stroke": {"datum": "FEM", "scale": {"domain": ["FEM", "Lumped"], "range": ["#555555", "#66bb44"]}, "legend": {"title": "8%"}}
   }},
  {"mark": {"type": "area", "fill": "#5ea63e", "fillOpacity": 0.85, "strokeWidth": 0.6},
   "encoding": {
    "x": {"field": "t", "type": "quantitative", "axis": {"orient": "top", "values": [0,2.5,5,7.5,10,12.5,15,17.5,20,22.5,25,27.5,30,32.5,35,37.5,40,42.5,45,47.5,50], "labels": false, "title": null, "tickSize": -3, "domain": false}},
    "y": {"field": "lh", "type": "quantitative", "axis": {"orient": "right", "values": [-1,-0.9,-0.8,-0.7,-0.6,-0.5,-0.4,-0.3,-0.2,-0.1,0,0.1,0.2,0.3,0.4,0.5,0.6,0.7,0.8,0.9,1], "labels": false, "title": null, "tickSize": -3, "domain": false}},
    "y2": {"field": "ll"},
    "stroke": {"datum": "Lumped"}
   }}
 ]
},
{
 "width": 322, "height": 237, "data": {"name": "c3"},
 "resolve": {"axis": {"x": "independent", "y": "independent"}},
 "layer": [
  {"mark": {"type": "area", "fill": "#303030", "strokeWidth": 0.6},
   "encoding": {
    "x": {"field": "t", "type": "quantitative", "scale": {"domain": [0, 50], "nice": false, "zero": false}, "axis": {"orient": "bottom", "values": [0,5,10,15,20,25,30,35,40,45,50], "title": "Time (s)"}},
    "y": {"field": "fh", "type": "quantitative", "scale": {"domain": [-1, 1], "nice": false}, "axis": {"orient": "left", "values": [-1,-0.8,-0.6,-0.4,-0.2,0,0.2,0.4,0.6,0.8,1], "labelExpr": "abs(datum.value) < 1e-9 ? '0.0' : replace(abs(datum.value) >= 0.999 ? format(datum.value, '.1f') + 'x10⁻³' : format(datum.value * 10, '.1f') + 'x10⁻⁴', '−', '-')", "title": "Tip displacement (m)"}},
    "y2": {"field": "fl"},
    "stroke": {"datum": "FEM", "scale": {"domain": ["FEM", "Lumped"], "range": ["#555555", "#55cc33"]}, "legend": {"title": "8%"}}
   }},
  {"mark": {"type": "area", "fill": "#5ea63e", "fillOpacity": 0.85, "strokeWidth": 0.6},
   "encoding": {
    "x": {"field": "t", "type": "quantitative", "axis": {"orient": "top", "values": [0,2.5,5,7.5,10,12.5,15,17.5,20,22.5,25,27.5,30,32.5,35,37.5,40,42.5,45,47.5,50], "labels": false, "title": null, "tickSize": -3, "domain": false}},
    "y": {"field": "lh", "type": "quantitative", "axis": {"orient": "right", "values": [-1,-0.9,-0.8,-0.7,-0.6,-0.5,-0.4,-0.3,-0.2,-0.1,0,0.1,0.2,0.3,0.4,0.5,0.6,0.7,0.8,0.9,1], "labels": false, "title": null, "tickSize": -3, "domain": false}},
    "y2": {"field": "ll"},
    "stroke": {"datum": "Lumped"}
   }}
 ]
}
]
}
